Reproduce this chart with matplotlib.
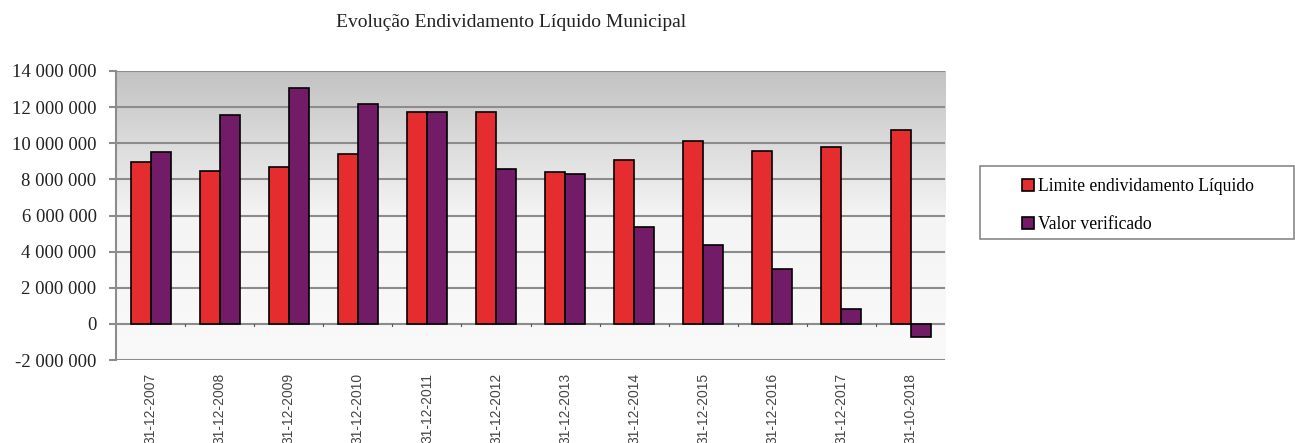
import matplotlib
matplotlib.use("Agg")
import matplotlib.pyplot as plt
import numpy as np
from matplotlib.colors import LinearSegmentedColormap
from matplotlib.patches import Rectangle
from matplotlib.ticker import FuncFormatter, MultipleLocator

# valores (euros)
datas = ["31-12-2007", "31-12-2008", "31-12-2009", "31-12-2010", "31-12-2011", "31-12-2012",
         "31-12-2013", "31-12-2014", "31-12-2015", "31-12-2016", "31-12-2017", "31-10-2018"]
limite = [8970000, 8450000, 8670000, 9400000, 11750000, 11700000,
          8430000, 9050000, 10140000, 9580000, 9770000, 10710000]
valor = [9490000, 11540000, 13040000, 12190000, 11730000, 8600000,
         8320000, 5350000, 4350000, 3050000, 810000, -700000]

COR_LIM = "#e52d2f"
COR_VAL = "#721c68"
GRID = "#8c8c8c"
SERIF = ["Liberation Serif", "DejaVu Serif"]

fig = plt.figure(figsize=(12.95, 4.43), dpi=100)
ax = fig.add_axes([0.0896, 0.187, 0.6402, 0.653])

x = np.arange(len(datas))
w = 0.29
ymin, ymax = -2000000, 14000000

# fundo em degrade (cinzento em cima, branco em baixo)
cmap = LinearSegmentedColormap.from_list("bg", ["#fafafa", "#f4f4f4", "#c2c2c2"])
grad = np.linspace(0, 1, 256).reshape(-1, 1)
ax.imshow(grad, extent=(-0.5, len(datas) - 0.5, ymin, ymax), origin="lower",
          aspect="auto", cmap=cmap, zorder=0)

ax.bar(x - w / 2, limite, w, color=COR_LIM, edgecolor="black", linewidth=1.2,
       label="Limite endividamento Líquido", zorder=3)
ax.bar(x + w / 2, valor, w, color=COR_VAL, edgecolor="black", linewidth=1.2,
       label="Valor verificado", zorder=3)

ax.set_xlim(-0.5, len(datas) - 0.5)
ax.set_ylim(ymin, ymax)
ax.yaxis.set_major_locator(MultipleLocator(2000000))
ax.yaxis.set_major_formatter(FuncFormatter(lambda v, p: f"{v:,.0f}".replace(",", " ")))
ax.grid(axis="y", color=GRID, linewidth=1.5, zorder=1)
ax.set_axisbelow(True)

for s in ["top", "right", "bottom"]:
    ax.spines[s].set_visible(False)
ax.spines["left"].set_color(GRID)
ax.spines["left"].set_linewidth(1.5)

# pequenas marcas do eixo das categorias em y=0
for b in x[:-1] + 0.5:
    ax.plot([b, b], [0, -120000], color="#555555", lw=0.8, zorder=2)

ax.set_xticks(x)
ax.set_xticklabels(datas, rotation=90, fontsize=10, family=["Liberation Sans", "DejaVu Sans"],
                   color="#444444", va="top")
ax.tick_params(axis="x", length=0, pad=9)
ax.tick_params(axis="y", length=5, width=1.5, color=GRID, pad=9)
for t in ax.get_yticklabels():
    t.set_fontfamily(SERIF)
    t.set_fontsize(13.5)
    t.set_color("#222222")

fig.text(0.3946, 0.95, "Evolução Endividamento Líquido Municipal", ha="center", va="center",
         fontsize=14, family=SERIF, color="#222222")

# caixa da legenda
fig.patches.append(Rectangle((0.757, 0.4605), 0.2425, 0.165, transform=fig.transFigure,
                             fill=False, edgecolor="#888888", linewidth=1.2))
fig.legend(loc="center", bbox_to_anchor=(0.8784, 0.536), frameon=False,
           prop={"family": SERIF, "size": 12.7}, handlelength=0.7, handleheight=0.7,
           handletextpad=0.2, labelspacing=1.2)

fig.savefig("out.png", dpi=100)
